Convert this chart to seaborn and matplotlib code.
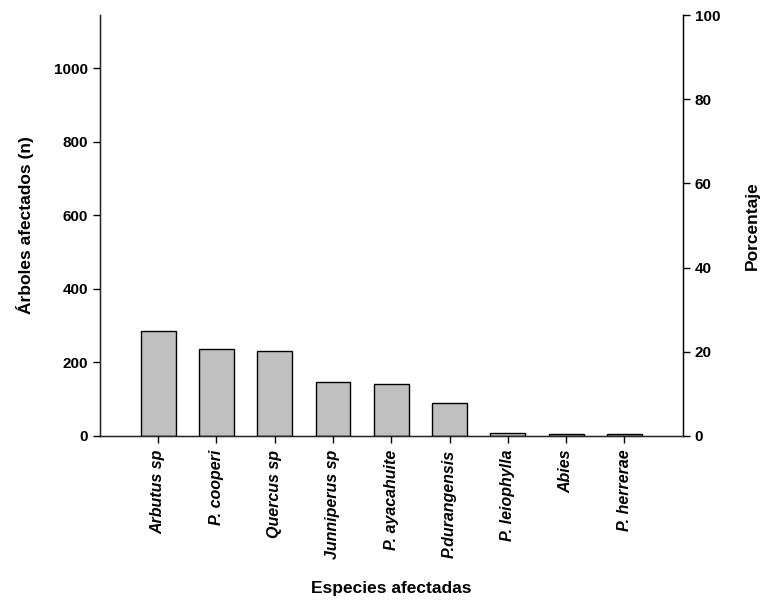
import pandas as pd
import matplotlib
matplotlib.use("Agg")
import matplotlib.pyplot as plt
import seaborn as sns

especies = ["Arbutus sp", "P. cooperi", "Quercus sp", "Junniperus sp", "P. ayacahuite",
            "P.durangensis", "P. leiophylla", "Abies", "P. herrerae"]
arboles = [285, 236, 231, 147, 140, 90, 7, 4, 4]

sns.set_style("ticks")
plt.rcParams['font.family'] = ['Liberation Sans', 'DejaVu Sans']
plt.rcParams['font.weight'] = 'bold'
plt.rcParams['text.color'] = 'black'
plt.rcParams['axes.labelcolor'] = 'black'
plt.rcParams['xtick.color'] = 'black'
plt.rcParams['ytick.color'] = 'black'

df = pd.DataFrame({"Especie": especies, "Arboles": arboles})
total = df["Arboles"].sum()

fig = plt.figure(figsize=(7.62, 6.02), dpi=100)
ax = fig.add_axes([0.131, 0.276, 0.765, 0.699])

sns.barplot(data=df, x="Especie", y="Arboles", color="#c0c0c0", edgecolor="black",
            linewidth=1, width=0.6, saturation=1, ax=ax)
ax.set_xlim(-1, 9)
ax.set_ylim(0, total)
ax.set_yticks(range(0, 1001, 200))
ax.set_xticks(range(len(especies)))
ax.set_xticklabels(especies, rotation=90, fontstyle="italic", fontweight="bold", fontsize=11.5)
ax.tick_params(axis="y", labelsize=11, direction="out", length=5, width=1)
ax.tick_params(axis="x", direction="out", length=5, width=1, pad=5)
for lab in ax.get_yticklabels():
    lab.set_fontweight("bold")
ax.set_xlabel("Especies afectadas", fontsize=12.5, fontweight="bold")
ax.set_ylabel("Árboles afectados (n)", fontsize=12.5, fontweight="bold")
ax.xaxis.set_label_coords(0.5, -0.344)
ax.yaxis.set_label_coords(-0.113, 0.5)
ax.spines["top"].set_visible(False)
for s in ["left", "bottom", "right"]:
    ax.spines[s].set_color("black")
    ax.spines[s].set_linewidth(1)

ax2 = ax.twinx()
ax2.set_ylim(0, 100)
ax2.set_yticks(range(0, 101, 20))
ax2.tick_params(axis="y", labelsize=11, direction="out", length=5, width=1)
for lab in ax2.get_yticklabels():
    lab.set_fontweight("bold")
ax2.set_ylabel("Porcentaje", fontsize=12.5, fontweight="bold")
ax2.yaxis.set_label_coords(1.106, 0.5)
ax2.spines["top"].set_visible(False)
ax2.spines["right"].set_color("black")

fig.savefig("out.png", dpi=100)
